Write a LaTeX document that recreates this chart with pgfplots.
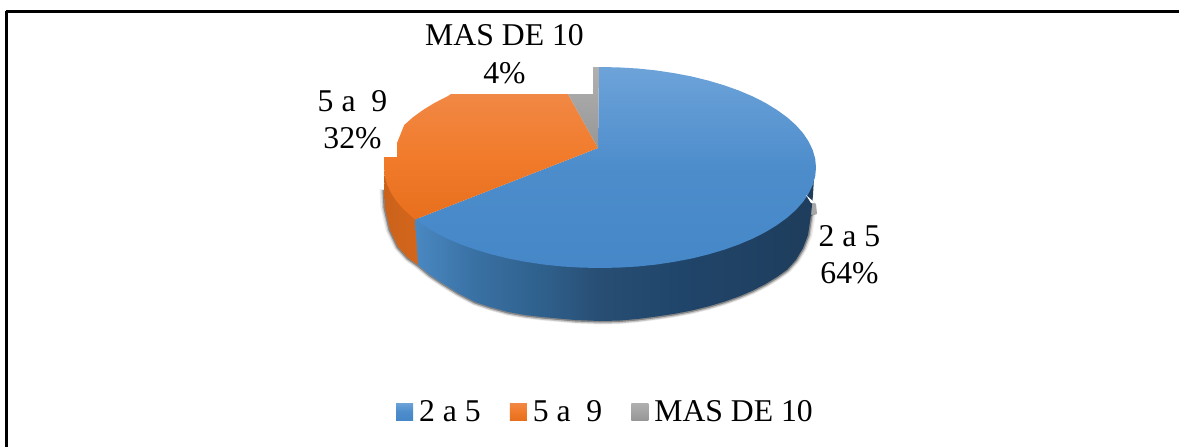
\documentclass[border=0pt]{standalone}
\usepackage{pgfplots}
\usepackage{pgfplotstable}
\usepackage{fontspec}
\setmainfont{Liberation Serif}
\pgfplotsset{compat=1.18}
\definecolor{blueT}{HTML}{6DA3D9}
\definecolor{blueB}{HTML}{4587C8}
\definecolor{orT}{HTML}{F18845}
\definecolor{orM}{HTML}{F17B2B}
\definecolor{orB}{HTML}{E76F1E}
\definecolor{grT}{HTML}{B0B0B0}
\definecolor{grB}{HTML}{979797}
\definecolor{sideA}{HTML}{4A88C2}
\definecolor{sideB}{HTML}{3A72A5}
\definecolor{sideC}{HTML}{2F608C}
\definecolor{sideD}{HTML}{284E74}
\definecolor{sideE}{HTML}{20456A}
\definecolor{sideF}{HTML}{1F3D5C}
\pgfdeclarehorizontalshading{sideblue}{100bp}{
 color(0bp)=(sideA); color(25bp)=(sideA);
 color(32bp)=(sideB); color(41bp)=(sideC);
 color(48bp)=(sideD); color(58.5bp)=(sideE);
 color(75bp)=(sideF); color(100bp)=(sideF)}
\pgfplotstableread{
x y
384 190
385 208
390 230
398 247
408 258
418 265
430 275
442 283
458 293
475 302
490 307
508 312
525 315
542 317
575 320
600 321
618.8 320.6
637.5 319
655.9 316.6
673.9 313.9
691.3 310.6
708 306.5
723.9 301.8
738.8 296.5
752.7 290.6
765.5 284
776.9 277
787 269.8
795.8 260
803 248
808 235
811 215
}\edgetable
\begin{document}
\begin{tikzpicture}
\begin{axis}[
 scale only axis, width=1179pt, height=447pt,
 xmin=0, xmax=1179, ymin=0, ymax=447, y dir=reverse,
 hide axis,
 legend style={draw=none, fill=none, at={(axis cs:607.5,411.5)}, anchor=center,
   font=\fontsize{31.7}{36}\selectfont, legend columns=3,
   inner sep=0pt,
   /tikz/every even column/.append style={column sep=23pt},
   nodes={inner xsep=6pt, inner ysep=0pt}},
 legend cell align=left,
 legend image code/.code={\path[#1] (0pt,-8.5pt) rectangle (17pt,8.5pt);},
]
\path (axis cs:0,0) rectangle (axis cs:1179,447);
% frame
\addplot[forget plot, black, line width=2.4pt] coordinates {(6,11.5) (1179,11.5)};
\addplot[forget plot, black, line width=2.4pt] coordinates {(6.5,10.5) (6.5,447)};
% shadow
\addplot[forget plot, black, opacity=.08, line width=9pt] table[y expr=\thisrow{y}-1] {\edgetable};
\addplot[forget plot, black, opacity=.16, line width=5.5pt] table[y expr=\thisrow{y}] {\edgetable};
\addplot[forget plot, black, opacity=.32, line width=3pt] table[y expr=\thisrow{y}] {\edgetable};
\addplot[forget plot, draw=none, fill=black, opacity=.35] coordinates {(806,195) (816,204) (817,214) (811,216)} -- cycle;
% orange side
\addplot[forget plot, draw=none, shade, left color=orB!88!black, right color=orB!92!black] coordinates {
 (384,175) (385,208) (390,230) (398,247) (408,258) (418,265) (420,220)} -- cycle;
% blue side
\addplot[forget plot, draw=none, shade, shading=sideblue] coordinates {
 (814,178) (813,195) (811,215) (808,235) (803,248) (795.8,260) (787,269.8) (776.9,277)
 (765.5,284) (752.7,290.6) (738.8,296.5) (723.9,301.8) (708,306.5) (691.3,310.6)
 (673.9,313.9) (655.9,316.6) (637.5,319) (618.8,320.6) (600,321) (575,320) (542,317)
 (525,315) (508,312) (490,307) (475,302) (458,293) (442,283) (430,275) (418,265) (415,219) (600,200)} -- cycle;
% top: 2 a 5 = 64 %
\addplot[draw=none, shade, top color=blueT, bottom color=blueB, middle color=blueB!80!blueT] coordinates {
 (598,148) (599,67) (618.8,67.4) (637.5,68.5) (655.9,70.4) (673.9,73.1) (691.3,76.4) (708,80.5)
 (723.9,85.2) (738.8,90.5) (752.7,96.4) (765.5,102.9) (776.9,109.9) (787,117.2) (795.8,125)
 (803,133.1) (808.6,141.5) (812.7,150) (815.2,158.7) (816,167.5) (815.2,176.3) (812.7,185)
 (808.6,193.5) (803,201.9) (795.8,210) (787,217.8) (776.9,225.1) (765.5,232.1) (752.7,238.6)
 (738.8,244.5) (723.9,249.8) (708,254.5) (691.3,258.6) (673.9,261.9) (655.9,264.6) (637.5,266.5)
 (618.8,267.6) (600,268) (581.2,267.6) (562.5,266.5) (544.1,264.6) (526.1,261.9) (508.7,258.6)
 (492,254.5) (476.1,249.8) (461.2,244.5) (447.3,238.6) (434.5,232.1) (423.1,225.1) (415,219.5)} -- cycle;
\addlegendentry{2 a 5}
% top: 5 a 9 = 32 %
\addplot[draw=none, shade, top color=orT, bottom color=orB, middle color=orM] coordinates {
 (598,148) (415,219.5) (404.2,210) (397,201.9) (391.4,193.5) (387.3,185) (384.8,176.3) (384,167.5)
 (384,157) (397,157) (397,143) (404.2,125) (413,117.2) (423.1,109.9) (434.5,102.9) (447.3,96.4)
 (451,94) (568,94)} -- cycle;
\addlegendentry{5 a~~9}
% top: mas de 10 = 4 %
\addplot[draw=none, shade, top color=grT, bottom color=grB] coordinates {
 (598,148) (568,94) (593,94) (593,67) (599,67)} -- cycle;
\addlegendentry{MAS DE 10}
% notch beside the data label
\addplot[forget plot, draw=none, fill=white] coordinates {(806,195) (815,203) (811,203)} -- cycle;
% data labels
\node[align=center, inner sep=0pt, font=\fontsize{31.7}{38}\selectfont] at (axis cs:504.5,54) {MAS DE 10\\4\%};
\node[align=center, inner sep=0pt, font=\fontsize{31.7}{37}\selectfont] at (axis cs:352.5,119.5) {5 a~~9\\32\%};
\node[align=center, inner sep=0pt, font=\fontsize{31.7}{37}\selectfont] at (axis cs:849.5,255) {2 a 5\\64\%};
\end{axis}
\end{tikzpicture}
\end{document}
